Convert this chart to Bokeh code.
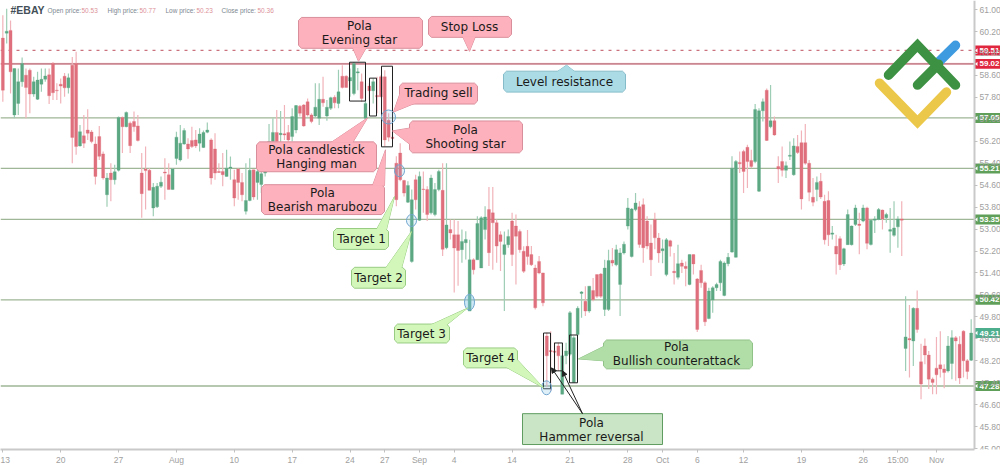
from bokeh.plotting import figure
from bokeh.embed import file_html
from bokeh.resources import INLINE
from bokeh.core.properties import value
from bokeh.models import Range1d, FixedTicker, Label, Arrow, NormalHead, NumeralTickFormatter, ColumnDataSource, LinearAxis

symbol = "#EBAY"
header = [("Open price:", "50.53"), ("High price:", "50.77"), ("Low price:", "50.23"), ("Close price:", "50.36")]
up_bars = [1,3,4,5,8,9,10,11,17,20,27,29,30,32,39,40,41,44,45,46,47,51,52,53,58,59,63,64,66,67,68,69,70,72,75,76,
           81,82,84,85,87,90,91,92,94,96,105,106,108,111,112,113,115,119,120,121,123,124,125,130,131,145,146,147,148,149,150,
           152,156,157,159,160,161,162,163,164,171,172,175,178,183,184,185,186,187,188,189,190,195,196,197,199,203,204,205,
           211,215,218,219,220,221,223,225,226,227,229,230,231,232,234,236,245,246,251]
body_high = [59.96,60.21,60.24,58.85,58.37,59.03,58.61,58.79,58.37,58.43,58.46,58.58,58.62,59.03,58.06,58.28,58.57,58.51,58.97,59.03,
 56.55,56.40,56.61,56.54,56.10,56.37,55.74,54.86,55.04,55.09,57.07,57.07,57.25,56.86,56.92,56.76,55.04,55.19,55.14,54.52,
 54.56,54.71,55.08,54.98,55.19,56.35,56.13,56.59,56.10,56.23,56.25,56.46,56.52,56.61,56.25,55.92,55.10,55.10,55.22,55.26,
 54.80,55.19,54.70,54.04,55.14,55.16,55.10,55.02,55.77,56.19,56.52,56.52,56.49,56.47,56.52,57.10,57.50,57.48,57.52,57.64,
 57.16,57.44,57.73,57.73,57.44,57.79,57.80,58.00,58.57,58.57,58.52,59.03,58.73,58.37,57.58,58.21,58.37,57.87,58.55,58.55,
 56.97,56.35,55.40,55.77,54.77,54.59,54.07,54.80,54.92,54.46,54.44,54.86,54.44,55.10,54.41,53.15,52.98,52.79,52.79,52.55,
 52.62,51.88,51.88,53.20,53.41,53.44,53.71,53.59,53.23,52.79,52.43,52.73,53.29,53.11,52.91,52.19,52.37,52.07,51.58,51.82,
 51.40,49.10,48.57,48.55,48.74,48.38,48.56,49.95,49.04,50.11,50.71,50.37,50.92,50.76,51.34,51.36,51.58,51.85,51.86,52.25,
 52.13,52.45,53.77,53.73,53.95,53.81,53.89,53.29,52.49,53.35,52.67,52.28,52.61,52.57,51.46,51.74,51.76,51.64,52.07,52.07,
 51.18,51.49,51.04,50.74,50.86,50.98,51.82,51.76,51.97,55.22,55.46,55.43,55.83,55.98,55.50,57.36,57.31,57.64,58.06,56.95,
 56.95,55.28,55.46,55.31,55.69,56.03,56.01,56.15,56.15,55.40,54.16,54.70,54.74,54.01,54.04,52.86,52.37,52.65,52.28,53.53,
 53.11,53.77,53.18,53.77,53.77,53.32,53.37,53.71,53.69,53.53,52.98,53.04,53.37,53.37,49.07,49.01,50.11,50.11,48.16,48.74,
 48.41,47.53,47.93,48.05,47.90,48.74,49.04,49.04,48.80,49.28,48.20,49.21]
body_low = [58.06,60.14,58.73,57.16,57.58,58.37,58.16,57.92,57.92,57.73,58.28,58.46,57.86,57.97,58.04,58.21,58.15,58.15,56.34,56.01,
 56.03,56.13,56.49,56.19,54.92,55.65,54.86,54.25,54.80,54.80,55.14,56.73,56.73,56.04,56.73,56.23,54.29,55.13,54.41,53.77,
 53.81,54.56,55.04,54.44,54.44,55.57,55.52,56.10,55.92,56.01,56.03,56.13,55.97,56.53,54.86,55.04,55.06,54.98,54.92,55.22,
 54.13,54.70,54.25,53.65,54.04,54.17,54.70,54.62,55.04,55.65,56.19,56.19,56.44,56.43,56.25,56.37,56.61,57.22,56.76,57.16,
 56.92,57.12,57.04,57.60,57.12,57.40,57.60,57.58,58.16,58.16,58.40,57.94,58.69,57.76,57.04,58.04,58.04,57.82,57.82,56.25,
 56.35,56.30,54.07,54.80,54.31,53.98,51.82,54.07,53.32,54.44,53.53,53.59,53.53,54.44,52.26,52.32,52.86,52.31,52.22,52.25,
 52.50,50.01,51.52,51.88,51.58,52.98,52.14,53.23,52.38,52.55,52.07,52.43,52.07,52.74,52.25,51.46,52.00,51.70,50.13,51.40,
 50.31,48.38,48.53,48.51,48.38,46.98,48.38,48.44,47.41,49.16,50.65,50.01,50.01,50.43,50.55,50.55,50.07,50.07,51.76,51.70,
 50.98,52.13,53.11,52.00,53.71,52.44,52.32,52.38,51.88,52.68,52.13,52.21,51.34,52.37,51.41,51.24,51.64,51.56,50.98,51.73,
 49.34,51.04,49.62,49.74,50.41,50.86,51.04,50.58,51.74,52.16,51.97,55.38,55.10,55.46,55.28,55.46,54.38,57.31,56.23,56.73,
 56.43,55.19,55.14,55.14,55.65,54.98,55.79,54.10,55.40,54.34,53.98,54.44,54.17,52.61,52.79,52.81,52.09,51.70,51.73,52.43,
 52.43,53.17,53.13,53.29,52.48,52.44,53.32,53.35,53.37,53.41,52.92,52.77,53.08,53.32,48.65,48.96,48.92,49.34,47.35,48.41,
 47.53,47.41,47.69,47.90,47.77,47.83,48.10,48.92,47.57,48.20,47.81,48.22]
highs = [60.79,61.03,60.60,58.85,58.85,59.25,58.85,58.85,58.55,58.73,58.85,58.85,58.85,59.09,58.31,58.49,58.69,58.67,59.27,59.46,
 56.79,57.16,57.37,56.61,56.37,56.76,55.83,55.04,55.40,55.34,57.10,57.10,57.28,56.92,57.28,57.16,55.77,56.01,55.22,54.68,
 54.68,54.92,55.58,55.40,55.22,56.55,56.79,56.67,56.31,56.73,56.61,56.67,56.59,56.88,56.31,56.49,55.40,55.77,55.89,55.64,
 55.16,55.22,55.04,55.40,55.58,55.16,55.52,55.10,56.01,56.83,57.04,57.34,57.30,57.52,56.79,57.40,57.52,57.52,57.56,57.76,
 57.22,58.31,58.31,58.55,57.70,57.82,57.88,58.81,58.97,58.61,58.85,59.09,58.87,58.67,58.31,58.31,58.49,58.55,58.61,58.79,
 57.22,56.55,55.65,56.13,54.80,54.74,54.44,54.98,55.10,55.10,54.56,54.98,54.68,55.16,55.40,55.40,53.35,53.35,53.29,52.98,
 52.92,52.61,51.94,53.47,53.47,53.83,54.53,54.53,53.35,52.92,52.91,52.98,53.59,53.53,52.98,52.37,52.97,52.38,51.70,52.02,
 51.41,49.22,49.28,48.87,48.86,48.86,48.86,50.01,49.09,50.19,50.74,50.92,50.92,51.22,51.34,51.40,51.88,52.25,52.31,52.43,
 52.31,52.55,54.13,53.77,54.31,54.01,54.11,53.47,53.17,53.59,52.86,52.62,52.67,52.61,52.13,52.43,51.88,51.82,52.07,52.07,
 51.22,51.70,51.10,50.86,50.92,51.04,51.88,51.82,52.13,55.65,55.52,55.83,55.89,56.07,55.89,57.56,57.40,57.76,58.12,58.25,
 57.10,55.65,56.01,55.46,56.19,56.31,56.43,56.59,56.83,55.52,54.86,54.92,55.04,54.25,54.38,53.11,52.79,52.74,52.32,53.71,
 53.13,53.89,53.59,53.89,53.81,53.35,53.47,53.77,53.71,53.59,53.77,54.01,53.47,54.01,50.55,50.23,50.15,50.76,48.82,49.01,
 48.56,47.59,49.07,49.28,48.07,49.10,49.31,49.10,49.09,49.31,48.26,49.71]
lows = [57.64,59.76,57.94,57.04,57.16,58.19,57.04,57.22,57.82,57.70,58.00,58.37,57.56,57.70,57.70,57.58,57.82,57.94,55.40,55.71,
 56.01,55.95,56.25,56.13,54.62,55.52,54.80,53.81,54.01,54.62,55.10,55.77,56.71,55.77,56.55,56.19,53.41,53.71,54.41,53.47,
 53.77,54.50,54.07,54.44,54.44,55.34,55.46,56.07,55.56,55.95,55.95,55.83,55.95,56.49,54.62,54.80,55.04,54.56,54.92,54.80,
 53.83,54.07,54.01,53.53,54.01,54.07,54.07,54.31,54.92,55.52,56.13,56.13,56.13,56.25,56.19,56.19,56.49,57.10,56.73,57.10,
 56.86,57.07,56.79,57.46,56.95,57.34,57.40,57.40,58.12,58.16,57.82,57.88,58.06,57.64,56.97,57.70,57.58,57.22,57.80,56.01,
 56.19,56.25,53.83,54.74,54.19,53.95,51.77,53.71,53.29,53.59,53.29,53.53,53.47,54.38,52.02,52.26,52.62,50.69,50.93,51.77,
 51.89,50.01,51.34,51.88,51.58,52.62,51.65,51.52,51.77,51.47,50.01,52.32,51.65,50.98,52.14,51.40,51.70,51.65,50.07,51.35,
 50.19,47.23,47.11,47.84,47.83,46.98,48.07,48.38,47.41,49.10,49.77,49.83,49.95,50.37,50.49,50.49,49.83,50.01,51.64,51.64,
 49.83,52.07,52.98,51.96,53.65,52.32,51.77,52.26,51.29,52.26,51.77,51.75,51.28,52.00,50.98,51.16,51.40,50.92,50.95,51.34,
 49.25,50.86,49.47,49.71,49.95,50.74,50.74,50.55,51.64,52.14,51.96,55.04,54.31,54.50,55.22,55.40,54.35,56.92,56.21,56.67,
 56.40,54.68,54.92,54.86,55.52,54.94,55.74,53.71,55.34,54.01,53.83,54.01,54.10,52.44,52.38,52.62,51.34,51.51,51.65,52.43,
 52.40,53.11,52.08,53.25,52.26,52.40,52.86,53.32,52.98,53.23,52.14,52.72,52.32,52.02,47.83,47.59,48.01,49.22,46.80,48.07,
 47.17,46.98,46.98,47.59,47.20,47.77,47.53,47.47,47.35,47.59,47.53,48.19]

level_dashed = 59.51
level_resist = 59.02
support_levels = [57.05, 55.21, 53.35, 50.42, 47.28]
last_close = 49.21
y_ticks = [61.0,60.2,59.4,58.6,57.8,57.0,56.2,55.4,54.6,53.8,53.0,52.2,51.4,50.6,49.8,49.0,48.2,47.4,46.6,45.8,45.0]
x_ticks = [0,15,30,45,60,75,90,99,108,117,132,147,162,171,180,192,207,223,232,242]
x_labels = ["13","20","27","Aug","10","17","24","27","Sep","4","14","21","28","Oct","6","12","19","26","15:00","Nov"]

UP, DOWN, UP_W, DOWN_W = "#5ba883", "#df6f7c", "#9dcdb4", "#f1b3b9"
PINK, PINK_B = "#fdb1bc", "#d98e9b"
BLUE, BLUE_B = "#abdce6", "#86bcc9"
LIME, LIME_B = "#d3f7bb", "#98cc82"
MOSS, MOSS_B = "#b1dda7", "#90c287"
SAGE, SAGE_B = "#c9e5c5", "#5f9c5f"

# reference pixel -> data helpers, used only for annotations
X = lambda px: (px - 2.33) / 3.858
Y = lambda py: 61.33 - py / 27.56

p = figure(width=1000, height=467, output_backend="svg", toolbar_location=None, y_axis_location=None,
           x_range=Range1d(X(0), X(1000)), y_range=Range1d(Y(451), Y(0)),
           min_border_left=0, min_border_right=0, min_border_top=0, min_border_bottom=16)
p.outline_line_color = None
p.grid.visible = False
p.background_fill_color = "#ffffff"

yax = LinearAxis(fixed_location=X(974))
p.add_layout(yax, "right")
for ax in (p.xaxis[0], yax):
    ax.axis_line_color = "#c9c9c9"; ax.axis_line_width = 2
    ax.major_tick_line_color = "#c0c0c0"; ax.major_tick_out = 3; ax.major_tick_in = 0
    ax.minor_tick_line_color = None
    ax.major_label_text_color = "#a0a0a0"; ax.major_label_text_font = "Liberation Sans"
    ax.major_label_text_font_size = "8.5px"; ax.major_label_standoff = 2
p.xaxis[0].ticker = FixedTicker(ticks=x_ticks)
p.xaxis[0].major_label_overrides = dict(zip(x_ticks, x_labels))
p.xaxis[0].bounds = (X(0), X(974))
yax.ticker = FixedTicker(ticks=y_ticks)
yax.formatter = NumeralTickFormatter(format="0.00")

# price levels
p.line([X(0), X(974)], [level_dashed] * 2, line_color="#c9727e", line_width=1.2, line_dash="3 5")
p.line([X(0), X(974)], [level_resist] * 2, line_color="#f9d5da", line_width=2.4)
p.line([X(0), X(974)], [level_resist] * 2, line_color="#b96e79", line_width=1.1)
for lv in support_levels:
    p.line([X(0), X(974)], [lv] * 2, line_color="#9fb697", line_width=1.3)

# candles
idx = list(range(len(highs)))
is_up = [i in set(up_bars) for i in idx]
src = ColumnDataSource(dict(x=idx, top=body_high, bottom=body_low, high=highs, low=lows,
                            body=[UP if u else DOWN for u in is_up], wick=[UP_W if u else DOWN_W for u in is_up]))
p.segment("x", "high", "x", "low", source=src, line_color="wick", line_width=1.2)
p.vbar("x", 0.78, "bottom", "top", source=src, fill_color="body", line_color="body", line_width=0.3)

# pattern boxes
for (a, b, c, d) in [(349, 62, 365, 101), (369, 78, 376, 116), (381, 66, 392, 147),
                     (543, 334, 550, 390), (554, 344, 562, 372), (569, 336, 577, 384)]:
    p.line([X(a), X(c), X(c), X(a), X(a)], [Y(b), Y(b), Y(d), Y(d), Y(b)], line_color="#222222", line_width=1)

# target ellipses
for (cx, cy, rx, ry, alpha) in [(388, 117, 7, 7, 0.18), (399, 171, 5, 6, 0.18), (411, 221, 5, 6, 0.18),
                                (469, 303, 5, 8, 0.4), (546, 389, 5, 7, 0.25)]:
    p.ellipse(X(cx), Y(cy), width=2 * rx / 3.858, height=2 * ry / 27.56, fill_color="#7fc4e8", fill_alpha=alpha,
              line_color="#6fa5cf", line_width=1)

def rounded(x0, y0, x1, y1, r):
    steps = [(x1 - r, y0), (x1, y0 + r), (x1, y1 - r), (x1 - r, y1), (x0 + r, y1), (x0, y1 - r), (x0, y0 + r), (x0 + r, y0)]
    return [X(a) for a, b in steps], [Y(b) for a, b in steps]

def callout(box, tail, fill, border, lines, r=3):
    x0, y0, x1, y1 = box
    if tail:
        p.patch([X(a) for a, b in tail], [Y(b) for a, b in tail], fill_color=fill, line_color=border, line_width=1)
    xs, ys = rounded(x0, y0, x1, y1, r)
    p.patch(xs, ys, fill_color=fill, line_color=border, line_width=1)
    if tail:
        p.patch([X(a) for a, b in tail], [Y(b) for a, b in tail], fill_color=fill, line_color=None)
    for (t, cx, cy) in lines:
        p.text([X(cx)], [Y(cy)], text=[t], text_font=value("DejaVu Sans"), text_font_size="12px", text_color="#1a1a1a",
               text_align="center", text_baseline="middle")

callout((298, 17, 422, 48), [(352, 47), (358, 61), (366, 47)], PINK, PINK_B, [("Pola", 359, 26), ("Evening star", 359, 40)])
callout((428, 16, 511, 37), [(462, 36), (469, 51), (475, 36)], PINK, PINK_B, [("Stop Loss", 469, 27)])
callout((503, 71, 625, 92), [(556, 72), (566, 65), (575, 72)], BLUE, BLUE_B, [("Level resistance", 564, 82)])
callout((399, 83, 477, 104), [(400, 92), (393, 112), (415, 103)], PINK, PINK_B, [("Trading sell", 438, 93)])
callout((409, 121, 522, 153), [(410, 128), (392, 131), (410, 145)], PINK, PINK_B, [("Pola", 465, 130), ("Shooting star", 465, 144)])
callout((256, 142, 376, 172), [(330, 143), (367, 118), (352, 143)], PINK, PINK_B, [("Pola candlestick", 316, 150), ("Hanging man", 316, 164)])
callout((261, 185, 384, 215), [(372, 186), (385, 150), (384, 186)], PINK, PINK_B, [("Pola", 322, 193), ("Bearish marubozu", 322, 207)])
callout((333, 229, 388, 250), [(376, 230), (394, 197), (386, 230)], LIME, LIME_B, [("Target 1", 361, 240)])
callout((351, 268, 405, 289), [(385, 269), (411, 232), (401, 269)], LIME, LIME_B, [("Target 2", 378, 279)])
callout((394, 325, 449, 344), [(430, 326), (467, 309), (446, 326)], LIME, LIME_B, [("Target 3", 421, 335)])
callout((463, 349, 517, 369), [(505, 368), (543, 389), (516, 360)], LIME, LIME_B, [("Target 4", 490, 359)])
callout((603, 341, 752, 370), [(604, 347), (578, 360), (604, 362)], MOSS, MOSS_B, [("Pola", 676, 348), ("Bullish counterattack", 676, 362)])
callout((522, 415, 662, 446), None, SAGE, SAGE_B, [("Pola", 591, 424), ("Hammer reversal", 591, 438)], r=0)

for tip in [(551, 369), (562, 372)]:
    p.add_layout(Arrow(end=NormalHead(size=5, fill_color="#222222", line_color="#222222"), x_start=X(582), y_start=Y(415),
                       x_end=X(tip[0]), y_end=Y(tip[1]), line_color="#222222", line_width=1))

# logo
for pts, col in [([(937, 63), (955, 45)], "#3f9be0"),
                 ([(888, 75), (917, 45), (955, 85)], "#3d9142"),
                 ([(917, 85), (938, 64)], "#3d9142"),
                 ([(879, 83), (917, 122), (946, 92)], "#ecc84a")]:
    p.line([X(a) for a, b in pts], [Y(b) for a, b in pts], line_color=col, line_width=9.5, line_cap="round", line_join="miter")

# header
def label(txt, px, py, color, size, bold=False, align="left"):
    p.add_layout(Label(x=X(px), y=Y(py), text=txt, text_color=color, text_font="Liberation Sans", text_font_size=size,
                       text_font_style="bold" if bold else "normal", text_align=align, text_baseline="middle"))

label(symbol, 10, 10, "#445058", "10.5px", True)
for (name, val), a, b in zip(header, [47, 107, 165, 221], [81, 139, 196, 257]):
    label(name, a, 10.5, "#7d8790", "6.5px")
    label(val, b, 10.5, "#dd9298", "6.5px")

# price tags
tags = [(level_dashed, "#e0263f"), (level_resist, "#e0263f")] + [(lv, "#5f9f5a") for lv in support_levels] + [(last_close, "#4cae8c")]
for v, col in tags:
    p.quad(left=X(974), right=X(999.5), top=v + 5 / 27.56, bottom=v - 5 / 27.56, fill_color=col, line_color=None)
    p.patch([X(974.5), X(977), X(977)], [v, v + 2.2 / 27.56, v - 2.2 / 27.56], fill_color="#ffffff", line_color=None)
    p.text([X(979)], [v], text=[f"{v:.2f}"], text_color="#ffffff", text_font=value("Liberation Sans"),
           text_font_size="8px", text_font_style="bold", text_align="left", text_baseline="middle")

open("out.html", "w").write(file_html(p, INLINE))
